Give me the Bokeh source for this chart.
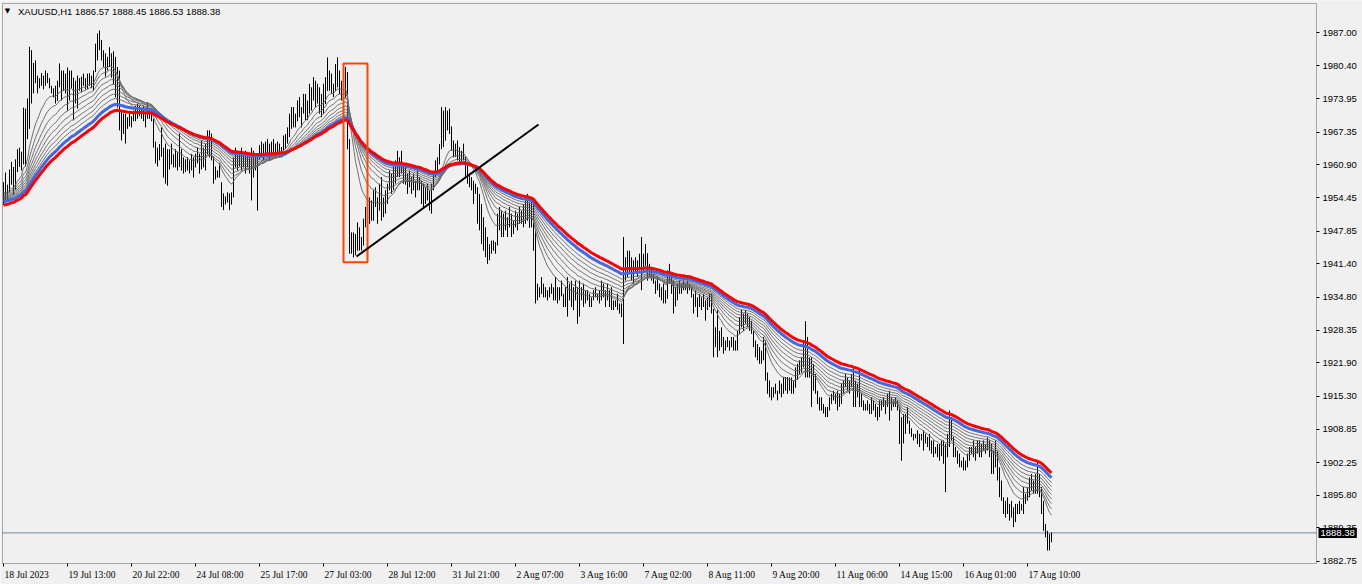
from bokeh.plotting import figure
from bokeh.models import (Range1d, FixedTicker, LinearAxis, Label, LabelSet, BoxAnnotation,
                          ColumnDataSource, NumeralTickFormatter)
from bokeh.embed import file_html
from bokeh.resources import INLINE

symbol_text = "XAUUSD,H1  1886.57 1888.45 1886.53 1888.38"

high = [
    1957.5, 1959.4, 1957.0, 1960.0, 1961.5, 1960.5, 1962.0, 1964.0, 1964.3, 1963.5,
    1972.2, 1972.0, 1974.0, 1984.2, 1983.5, 1981.0, 1981.5, 1978.5, 1978.0, 1979.0,
    1978.5, 1979.5, 1979.0, 1978.0, 1976.5, 1976.0, 1976.5, 1977.5, 1980.9, 1979.5,
    1979.5, 1978.9, 1980.1, 1979.5, 1979.5, 1978.1, 1977.5, 1978.5, 1978.0, 1978.3,
    1978.9, 1978.0, 1978.9, 1979.0, 1978.5, 1979.5, 1984.8, 1986.8, 1987.4, 1985.5,
    1983.5, 1982.9, 1982.2, 1984.1, 1982.9, 1983.3, 1982.2, 1980.2, 1979.5, 1971.6,
    1971.0, 1971.0, 1970.3, 1971.0, 1970.5, 1971.6, 1972.6, 1973.0, 1972.6, 1972.0,
    1972.6, 1971.0, 1973.3, 1972.0, 1972.0, 1970.0, 1965.5, 1964.3, 1965.0, 1968.3,
    1964.3, 1965.1, 1964.0, 1964.0, 1965.1, 1963.0, 1964.0, 1963.5, 1967.1, 1964.0,
    1962.4, 1962.0, 1962.4, 1961.8, 1963.1, 1962.4, 1963.1, 1964.3, 1963.1, 1965.7,
    1964.3, 1965.1, 1967.7, 1967.7, 1967.1, 1962.5, 1960.6, 1959.8, 1961.2, 1957.5,
    1955.3, 1954.7, 1955.5, 1955.3, 1955.5, 1962.4, 1964.3, 1963.7, 1963.1, 1964.3,
    1963.1, 1963.7, 1963.1, 1962.4, 1964.3, 1963.7, 1963.1, 1963.1, 1964.8, 1965.5,
    1965.1, 1965.5, 1966.0, 1965.1, 1965.5, 1966.0, 1965.1, 1965.5, 1965.1, 1964.4,
    1966.7, 1967.0, 1968.3, 1971.0, 1972.3, 1972.3, 1971.0, 1973.6, 1974.3, 1972.3,
    1974.9, 1974.9, 1973.6, 1976.9, 1976.2, 1978.2, 1977.5, 1976.9, 1976.2, 1974.9,
    1976.9, 1978.2, 1982.1, 1979.5, 1978.9, 1976.9, 1980.8, 1982.1, 1979.5, 1977.5,
    1979.5, 1980.2, 1979.2, 1966.0, 1947.6, 1947.6, 1947.3, 1949.6, 1948.6, 1946.7,
    1950.3, 1952.6, 1951.9, 1954.5, 1953.9, 1955.9, 1956.5, 1954.5, 1957.2, 1958.5,
    1954.5, 1955.9, 1957.2, 1959.8, 1959.2, 1960.5, 1961.8, 1963.7, 1962.4, 1963.7,
    1961.1, 1960.5, 1959.2, 1959.8, 1958.5, 1959.2, 1957.8, 1959.8, 1958.5, 1957.8,
    1957.2, 1956.5, 1957.2, 1955.9, 1957.2, 1959.2, 1961.8, 1962.4, 1965.0, 1972.3,
    1971.6, 1972.3, 1971.6, 1972.0, 1968.5, 1965.7, 1965.1, 1965.7, 1964.4, 1963.7,
    1965.1, 1962.5, 1961.1, 1959.2, 1958.5, 1957.8, 1957.2, 1956.5, 1955.2, 1953.2,
    1950.6, 1948.6, 1946.7, 1945.3, 1946.0, 1946.0, 1945.7, 1951.3, 1952.6, 1951.9,
    1951.3, 1951.9, 1950.6, 1952.6, 1951.3, 1949.9, 1951.9, 1951.3, 1952.6, 1951.9,
    1953.2, 1953.9, 1955.2, 1953.5, 1953.9, 1953.3, 1948.0, 1937.5, 1936.8, 1938.8,
    1937.5, 1936.8, 1936.2, 1936.8, 1937.5, 1936.8, 1938.8, 1936.8, 1936.8, 1938.1,
    1935.5, 1936.8, 1938.8, 1937.5, 1938.1, 1936.8, 1938.1, 1936.8, 1938.1, 1936.8,
    1937.5, 1936.2, 1936.2, 1935.5, 1934.8, 1936.2, 1936.8, 1935.5, 1936.2, 1938.1,
    1937.5, 1936.2, 1937.5, 1936.2, 1936.8, 1934.2, 1934.2, 1935.5, 1933.6, 1933.6,
    1946.7, 1942.7, 1944.0, 1944.0, 1942.7, 1942.1, 1942.7, 1942.1, 1943.4, 1946.7,
    1943.4, 1945.3, 1943.5, 1941.4, 1940.7, 1939.4, 1938.1, 1938.8, 1937.5, 1936.8,
    1937.5, 1936.2, 1940.1, 1941.4, 1939.4, 1938.1, 1936.8, 1937.5, 1938.1, 1937.5,
    1938.1, 1937.5, 1938.1, 1937.5, 1936.8, 1935.5, 1936.2, 1934.8, 1935.5, 1934.8,
    1935.5, 1934.2, 1934.8, 1935.5, 1935.5, 1932.5, 1928.9, 1932.3, 1928.2, 1928.9,
    1927.0, 1926.3, 1927.0, 1926.3, 1927.0, 1927.0, 1926.3, 1928.2, 1930.9, 1932.3,
    1931.6, 1932.3, 1931.6, 1930.9, 1930.2, 1928.2, 1926.3, 1925.6, 1925.0, 1924.3,
    1927.0, 1926.3, 1920.0, 1918.4, 1917.1, 1917.1, 1917.8, 1916.4, 1918.4, 1917.8,
    1919.1, 1919.1, 1919.1, 1919.0, 1919.0, 1918.4, 1921.0, 1921.7, 1922.4, 1923.0,
    1926.3, 1930.1, 1927.0, 1923.0, 1923.0, 1921.7, 1919.7, 1916.4, 1915.1, 1915.1,
    1913.8, 1913.2, 1913.2, 1915.1, 1915.8, 1916.4, 1915.8, 1916.4, 1915.8, 1917.8,
    1918.4, 1919.7, 1919.0, 1918.4, 1919.7, 1920.7, 1918.4, 1917.8, 1920.4, 1915.8,
    1914.5, 1913.8, 1914.5, 1913.8, 1915.1, 1914.5, 1913.8, 1913.2, 1914.5, 1914.5,
    1915.1, 1914.5, 1915.8, 1916.4, 1915.1, 1914.5, 1915.1, 1914.5, 1913.2, 1911.2,
    1911.8, 1911.8, 1913.2, 1910.5, 1909.0, 1907.9, 1907.9, 1908.6, 1907.9, 1907.9,
    1908.6, 1907.9, 1907.3, 1907.9, 1906.6, 1906.6, 1905.3, 1905.9, 1905.9, 1906.6,
    1906.6, 1905.9, 1907.9, 1912.5, 1911.2, 1907.3, 1905.3, 1904.6, 1904.0, 1902.6,
    1903.3, 1902.6, 1904.0, 1905.3, 1905.3, 1906.6, 1905.3, 1906.6, 1906.6, 1905.9,
    1906.6, 1905.9, 1907.2, 1906.6, 1905.9, 1904.6, 1906.6, 1904.6, 1901.3, 1898.7,
    1895.4, 1894.7, 1895.4, 1894.1, 1894.7, 1893.4, 1894.1, 1894.1, 1894.7, 1894.1,
    1897.4, 1896.1, 1897.4, 1899.3, 1900.0, 1898.7, 1900.0, 1902.6, 1900.0, 1897.4,
    1894.7, 1890.1, 1888.8, 1888.2, 1888.45,
]

low = [
    1953.0, 1954.0, 1953.6, 1955.5, 1957.0, 1955.0, 1956.0, 1959.5, 1960.5, 1959.8,
    1961.0, 1960.5, 1966.0, 1968.0, 1973.0, 1975.0, 1977.0, 1975.0, 1976.0, 1976.5,
    1975.8, 1976.5, 1977.0, 1976.0, 1975.0, 1974.2, 1973.0, 1973.5, 1976.2, 1973.6,
    1975.5, 1975.0, 1971.6, 1973.6, 1976.0, 1969.7, 1973.0, 1972.0, 1975.5, 1975.2,
    1976.5, 1975.8, 1975.8, 1976.5, 1976.0, 1975.5, 1979.2, 1981.5, 1983.5, 1981.5,
    1980.2, 1978.3, 1979.5, 1980.2, 1978.1, 1976.8, 1974.2, 1972.2, 1967.7, 1965.7,
    1967.0, 1965.1, 1968.0, 1968.5, 1968.3, 1969.5, 1969.5, 1970.0, 1970.5, 1970.0,
    1969.5, 1968.3, 1970.0, 1970.0, 1969.5, 1964.3, 1961.2, 1960.6, 1961.8, 1962.5,
    1958.4, 1957.2, 1956.8, 1960.0, 1961.0, 1960.4, 1960.4, 1959.8, 1960.5, 1959.8,
    1959.2, 1959.5, 1959.8, 1959.2, 1959.8, 1958.4, 1960.4, 1961.2, 1959.2, 1960.0,
    1960.4, 1959.8, 1963.0, 1962.4, 1961.8, 1957.2, 1958.0, 1958.4, 1958.4, 1952.6,
    1952.0, 1953.1, 1953.5, 1952.0, 1953.1, 1954.5, 1960.4, 1959.8, 1960.6, 1959.8,
    1960.4, 1959.2, 1960.4, 1959.2, 1953.9, 1958.4, 1959.8, 1951.9, 1962.0, 1962.4,
    1961.8, 1963.0, 1962.4, 1961.8, 1962.5, 1962.4, 1962.4, 1963.0, 1962.4, 1962.4,
    1963.7, 1964.0, 1965.1, 1966.4, 1968.0, 1968.3, 1968.3, 1969.5, 1970.3, 1968.3,
    1971.0, 1969.7, 1969.7, 1971.0, 1971.6, 1973.6, 1972.3, 1973.0, 1971.0, 1970.3,
    1971.0, 1972.9, 1975.5, 1975.5, 1974.9, 1974.3, 1975.5, 1976.2, 1974.9, 1973.6,
    1972.5, 1974.0, 1964.0, 1943.4, 1943.4, 1942.7, 1943.1, 1944.0, 1944.0, 1944.0,
    1945.0, 1948.6, 1948.0, 1949.3, 1949.9, 1949.9, 1952.6, 1949.3, 1951.9, 1949.9,
    1950.6, 1951.3, 1953.2, 1955.9, 1955.2, 1956.0, 1957.2, 1958.5, 1958.5, 1959.2,
    1957.2, 1957.0, 1955.2, 1956.5, 1955.2, 1955.9, 1954.5, 1955.9, 1955.9, 1953.2,
    1952.6, 1953.2, 1953.9, 1951.9, 1951.3, 1955.9, 1958.5, 1959.8, 1961.0, 1964.0,
    1964.4, 1965.7, 1967.7, 1967.0, 1963.7, 1962.4, 1962.5, 1961.8, 1961.1, 1961.1,
    1961.8, 1958.5, 1957.2, 1956.5, 1955.9, 1953.2, 1955.2, 1949.3, 1948.0, 1945.3,
    1944.0, 1942.7, 1941.4, 1942.1, 1943.4, 1944.0, 1943.4, 1945.0, 1948.0, 1946.7,
    1946.7, 1948.0, 1946.7, 1948.6, 1946.7, 1947.3, 1948.6, 1948.0, 1949.3, 1949.3,
    1948.6, 1949.3, 1949.9, 1948.5, 1948.6, 1944.0, 1933.6, 1934.2, 1934.8, 1935.5,
    1934.8, 1934.8, 1934.2, 1934.8, 1935.5, 1934.2, 1934.2, 1933.6, 1934.2, 1935.0,
    1932.9, 1932.9, 1931.0, 1934.2, 1932.9, 1932.3, 1934.2, 1929.6, 1931.0, 1934.2,
    1932.9, 1933.6, 1934.2, 1932.9, 1932.9, 1934.2, 1934.8, 1934.2, 1933.6, 1934.2,
    1934.8, 1932.9, 1934.2, 1932.9, 1932.3, 1932.3, 1932.9, 1932.3, 1931.6, 1930.9,
    1925.6, 1938.1, 1938.8, 1939.4, 1938.1, 1937.5, 1939.4, 1938.8, 1940.1, 1936.2,
    1940.1, 1941.0, 1938.1, 1938.8, 1938.1, 1937.5, 1935.5, 1936.2, 1934.8, 1934.2,
    1933.6, 1933.6, 1934.5, 1937.5, 1935.5, 1931.6, 1933.0, 1934.2, 1935.5, 1935.5,
    1936.2, 1936.2, 1935.5, 1936.2, 1934.8, 1931.6, 1932.9, 1930.9, 1932.9, 1932.3,
    1932.9, 1930.2, 1932.3, 1932.9, 1931.6, 1923.0, 1925.0, 1923.0, 1924.3, 1925.0,
    1923.7, 1924.3, 1925.0, 1924.3, 1925.0, 1924.3, 1924.3, 1924.3, 1927.6, 1928.9,
    1928.2, 1929.6, 1928.9, 1928.2, 1927.6, 1925.0, 1923.0, 1922.4, 1921.7, 1921.7,
    1922.4, 1918.4, 1915.8, 1915.1, 1914.5, 1915.1, 1915.8, 1914.5, 1915.8, 1915.1,
    1915.8, 1916.4, 1915.8, 1916.4, 1915.8, 1915.8, 1917.0, 1918.5, 1919.7, 1920.0,
    1921.0, 1919.0, 1919.0, 1919.0, 1913.2, 1916.4, 1915.8, 1913.8, 1912.5, 1912.5,
    1911.9, 1911.2, 1911.2, 1912.5, 1913.8, 1914.5, 1913.8, 1912.5, 1913.2, 1913.8,
    1915.8, 1917.1, 1916.4, 1915.8, 1917.1, 1913.2, 1913.2, 1915.1, 1913.2, 1913.2,
    1912.5, 1912.5, 1912.5, 1911.8, 1911.8, 1912.5, 1911.2, 1910.5, 1911.2, 1912.5,
    1913.2, 1911.8, 1913.2, 1910.5, 1912.5, 1913.2, 1913.2, 1912.5, 1905.9, 1902.6,
    1906.0, 1907.9, 1909.9, 1907.9, 1907.3, 1906.6, 1907.0, 1905.9, 1905.3, 1906.6,
    1904.6, 1906.0, 1905.3, 1904.6, 1904.0, 1903.3, 1904.0, 1903.3, 1902.6, 1903.5,
    1902.0, 1896.4, 1903.3, 1905.3, 1906.6, 1903.3, 1903.3, 1902.0, 1901.3, 1901.3,
    1900.7, 1900.7, 1901.3, 1902.6, 1904.0, 1903.3, 1902.6, 1904.0, 1903.3, 1903.3,
    1904.6, 1904.0, 1904.6, 1903.3, 1900.0, 1900.0, 1901.3, 1898.7, 1895.4, 1894.7,
    1892.1, 1891.4, 1892.1, 1890.8, 1891.4, 1889.5, 1890.5, 1892.1, 1892.1, 1892.8,
    1892.1, 1894.1, 1894.7, 1895.4, 1896.7, 1896.1, 1896.1, 1896.1, 1895.4, 1892.1,
    1888.8, 1887.5, 1884.9, 1884.9, 1886.53,
]

close = [
    1956.0, 1955.0, 1956.5, 1958.5, 1959.0, 1956.5, 1961.0, 1962.5, 1961.0, 1963.0,
    1970.5, 1962.0, 1972.0, 1980.0, 1976.0, 1977.5, 1978.0, 1976.0, 1977.5, 1978.5,
    1976.5, 1979.0, 1977.5, 1976.5, 1975.5, 1975.0, 1974.0, 1976.5, 1979.0, 1975.0,
    1978.5, 1976.0, 1974.0, 1978.0, 1977.0, 1972.0, 1976.0, 1977.0, 1976.5, 1977.5,
    1977.0, 1976.8, 1978.5, 1978.0, 1977.0, 1979.0, 1983.0, 1985.0, 1984.0, 1982.5,
    1981.0, 1980.5, 1980.0, 1983.0, 1979.0, 1978.0, 1976.0, 1973.0, 1970.0, 1968.0,
    1970.0, 1967.5, 1969.0, 1970.5, 1969.0, 1970.5, 1972.0, 1971.0, 1971.5, 1970.5,
    1970.0, 1969.5, 1972.5, 1970.5, 1970.0, 1965.0, 1962.0, 1963.5, 1962.5, 1964.0,
    1960.0, 1962.0, 1960.0, 1963.0, 1962.0, 1961.5, 1963.0, 1960.5, 1964.0, 1960.5,
    1961.0, 1960.0, 1961.0, 1960.0, 1962.5, 1959.5, 1962.5, 1963.5, 1960.0, 1964.5,
    1961.5, 1963.0, 1966.5, 1963.5, 1962.5, 1958.0, 1959.0, 1959.0, 1959.0, 1953.5,
    1954.5, 1954.0, 1955.0, 1953.0, 1955.0, 1961.0, 1962.5, 1961.0, 1962.5, 1961.5,
    1962.0, 1960.0, 1961.5, 1960.0, 1961.0, 1962.0, 1961.5, 1962.5, 1963.5, 1964.5,
    1962.5, 1964.5, 1965.0, 1962.5, 1964.0, 1965.5, 1963.5, 1965.0, 1964.0, 1963.5,
    1966.0, 1966.5, 1967.5, 1969.5, 1971.5, 1969.0, 1970.5, 1972.5, 1971.0, 1971.5,
    1973.5, 1972.0, 1972.5, 1975.5, 1973.0, 1977.0, 1974.5, 1975.5, 1972.0, 1974.0,
    1976.0, 1976.5, 1980.0, 1977.0, 1976.0, 1975.0, 1979.0, 1978.0, 1976.0, 1975.5,
    1974.0, 1978.0, 1966.0, 1945.0, 1944.5, 1946.0, 1944.0, 1948.0, 1945.0, 1945.5,
    1949.5, 1950.0, 1949.0, 1953.5, 1951.0, 1955.0, 1953.5, 1951.0, 1955.0, 1952.0,
    1953.5, 1955.0, 1956.5, 1958.5, 1957.0, 1958.0, 1960.5, 1961.0, 1961.5, 1960.0,
    1958.5, 1959.0, 1957.0, 1958.5, 1956.0, 1958.0, 1955.5, 1958.5, 1957.0, 1954.5,
    1954.0, 1955.5, 1954.5, 1953.0, 1956.5, 1958.5, 1961.0, 1961.5, 1964.5, 1970.0,
    1966.5, 1970.5, 1969.0, 1968.0, 1965.0, 1963.0, 1964.5, 1962.5, 1962.0, 1963.0,
    1962.0, 1959.0, 1958.5, 1957.5, 1956.5, 1955.0, 1956.0, 1951.0, 1953.0, 1947.0,
    1946.5, 1944.0, 1943.0, 1944.5, 1944.5, 1945.5, 1945.0, 1949.5, 1950.0, 1948.0,
    1948.5, 1950.5, 1948.0, 1951.5, 1948.0, 1948.5, 1950.5, 1949.0, 1951.5, 1950.0,
    1952.0, 1951.0, 1953.5, 1949.5, 1951.5, 1945.0, 1936.0, 1936.0, 1935.5, 1937.5,
    1936.0, 1935.5, 1935.0, 1936.5, 1936.0, 1935.0, 1937.0, 1934.5, 1936.0, 1936.5,
    1934.0, 1935.5, 1932.5, 1936.0, 1934.0, 1935.5, 1935.0, 1932.0, 1936.5, 1935.5,
    1934.0, 1935.5, 1934.5, 1933.5, 1934.5, 1935.5, 1935.0, 1935.0, 1934.5, 1936.5,
    1935.5, 1934.0, 1936.0, 1933.5, 1934.5, 1933.0, 1933.5, 1934.0, 1932.5, 1932.0,
    1940.0, 1941.0, 1942.5, 1940.5, 1939.0, 1940.5, 1941.5, 1940.0, 1942.0, 1941.0,
    1942.0, 1943.5, 1939.5, 1940.5, 1938.5, 1938.0, 1936.0, 1937.5, 1935.5, 1936.0,
    1934.5, 1935.0, 1938.5, 1939.0, 1936.0, 1933.0, 1935.5, 1936.5, 1937.0, 1936.5,
    1937.5, 1936.5, 1937.0, 1936.5, 1935.5, 1932.5, 1935.0, 1932.0, 1934.5, 1933.0,
    1934.5, 1931.5, 1934.0, 1933.5, 1932.5, 1926.0, 1926.5, 1927.5, 1925.0, 1927.0,
    1924.5, 1925.5, 1926.0, 1925.0, 1926.5, 1925.5, 1925.0, 1927.5, 1929.5, 1931.0,
    1929.0, 1931.5, 1930.0, 1929.0, 1928.5, 1925.5, 1924.0, 1923.5, 1922.5, 1923.5,
    1925.0, 1919.5, 1917.0, 1916.0, 1915.5, 1916.5, 1917.0, 1915.5, 1917.5, 1916.0,
    1918.5, 1917.5, 1918.0, 1917.5, 1918.0, 1917.0, 1920.0, 1919.5, 1921.5, 1922.0,
    1924.0, 1921.0, 1920.5, 1921.0, 1915.0, 1918.5, 1916.5, 1914.5, 1914.0, 1913.0,
    1913.0, 1912.0, 1912.5, 1914.5, 1915.0, 1915.5, 1914.0, 1915.5, 1914.0, 1916.5,
    1917.5, 1918.5, 1917.0, 1918.0, 1918.0, 1915.0, 1917.0, 1916.0, 1914.5, 1914.0,
    1913.5, 1913.0, 1914.0, 1912.5, 1914.5, 1913.0, 1912.0, 1911.5, 1913.5, 1913.5,
    1914.5, 1912.5, 1915.0, 1914.0, 1913.5, 1914.0, 1914.5, 1913.0, 1907.5, 1905.0,
    1909.0, 1910.5, 1911.0, 1909.0, 1908.0, 1907.0, 1907.5, 1906.5, 1906.5, 1907.5,
    1906.0, 1906.5, 1906.0, 1905.0, 1905.5, 1904.0, 1904.5, 1905.0, 1903.5, 1905.5,
    1903.0, 1904.0, 1906.5, 1909.0, 1907.5, 1904.5, 1904.0, 1903.0, 1902.0, 1902.0,
    1901.5, 1902.0, 1903.5, 1904.0, 1904.5, 1905.5, 1903.5, 1906.0, 1904.5, 1905.5,
    1905.0, 1905.5, 1906.5, 1904.0, 1901.0, 1902.0, 1903.0, 1900.0, 1896.5, 1895.5,
    1893.5, 1892.0, 1894.5, 1891.5, 1893.0, 1890.5, 1893.5, 1893.0, 1894.0, 1893.5,
    1896.5, 1895.5, 1896.0, 1898.0, 1898.5, 1897.5, 1899.0, 1898.0, 1896.5, 1893.0,
    1889.5, 1888.5, 1886.0, 1886.6, 1888.38,
]

date_ticks = [0, 32, 64, 96, 128, 160, 192, 224, 256, 288, 320, 352, 384, 416, 448, 480, 512]
date_labels = ["18 Jul 2023", "19 Jul 13:00", "20 Jul 22:00", "24 Jul 08:00", "25 Jul 17:00",
               "27 Jul 03:00", "28 Jul 12:00", "31 Jul 21:00", "2 Aug 07:00", "3 Aug 16:00",
               "7 Aug 02:00", "8 Aug 11:00", "9 Aug 20:00", "11 Aug 06:00", "14 Aug 15:00",
               "16 Aug 01:00", "17 Aug 10:00"]
price_ticks = [1987.00, 1980.40, 1973.95, 1967.35, 1960.90, 1954.45, 1947.85, 1941.40,
               1934.80, 1928.35, 1921.90, 1915.30, 1908.85, 1902.25, 1895.80, 1889.35, 1882.75]
last_price = 1888.38

grey_periods = [14, 20, 26, 32, 38, 44, 50, 56]
grey_init = [1955.4, 1955.1, 1954.8, 1954.6, 1954.4, 1954.2, 1954.0, 1953.8]
blue_period = 64
blue_init = 1953.6
red_period = 72
red_init = 1952.9

box_x = [170, 182]
box_y = [1941.7, 1980.9]
trend_x = [176.5, 267.5]
trend_y = [1942.85, 1968.87]


def ema(vals, period, init):
    a = 2.0 / (period + 1)
    out, e = [], init
    for v in vals:
        e = e + a * (v - e)
        out.append(e)
    return out


n = min(len(high), len(low), len(close))
idx = list(range(n))
high, low, close = high[:n], low[:n], close[:n]

# ---- layout (page pixels -> data) ----
W, H = 1362, 584
BG = "#F0F0F0"
FONT = "Liberation Sans"
FS = "9.5px"
PX_PER_BAR = 2.0
PX_PER_PRICE = 5.074
X0 = -1.5                                   # data x at page x = 0
PRICE_TOP = 1987.0 + 32.0 / PX_PER_PRICE    # price at page y = 0


def px_x(px):
    return X0 + px / PX_PER_BAR


def py_price(py):
    return PRICE_TOP - py / PX_PER_PRICE


xr = Range1d(px_x(0), px_x(W))
yr = Range1d(py_price(H), py_price(0))

chart_l, chart_r = px_x(2), px_x(1316)
chart_t, chart_b = py_price(3), py_price(563)

p = figure(frame_width=W, frame_height=H, x_range=xr, y_range=yr,
           output_backend="svg", toolbar_location=None,
           x_axis_location=None, y_axis_location=None,
           min_border_left=0, min_border_top=0, min_border_right=0, min_border_bottom=0,
           background_fill_color=BG, border_fill_color=BG, outline_line_color=None)
p.grid.grid_line_color = None

# right price axis, fixed to the chart's right edge
yaxis = LinearAxis(ticker=FixedTicker(ticks=price_ticks, minor_ticks=[]),
                   formatter=NumeralTickFormatter(format="0.00"),
                   fixed_location=chart_r,
                   major_tick_out=3, major_tick_in=0, minor_tick_out=0, minor_tick_in=0,
                   axis_line_color=None, major_tick_line_color="black",
                   major_label_standoff=3, major_label_text_font=FONT,
                   major_label_text_font_size=FS, major_label_text_color="black")
p.add_layout(yaxis, "right")

# bottom time axis (tick marks), fixed to the chart's bottom edge
xaxis = LinearAxis(ticker=FixedTicker(ticks=date_ticks, minor_ticks=[]),
                   fixed_location=chart_b,
                   major_tick_out=3, major_tick_in=0, minor_tick_out=0, minor_tick_in=0,
                   axis_line_color=None, major_tick_line_color="black",
                   major_label_text_font_size="0px", major_label_standoff=0)
xaxis.major_label_overrides = {t: "" for t in date_ticks}
p.add_layout(xaxis, "below")

lab_src = ColumnDataSource(dict(x=date_ticks, y=[py_price(574.5)] * len(date_ticks),
                                text=date_labels))
p.add_layout(LabelSet(x="x", y="y", text="text", source=lab_src, x_offset=1,
                      text_align="left", text_baseline="middle", text_font=FONT,
                      text_font_size=FS, text_color="black"))

# current price line
p.segment(x0=[chart_l], y0=[last_price], x1=[chart_r], y1=[last_price],
          line_color="#778899", line_width=1)

# bars (high-low)
p.segment(x0=idx, y0=low, x1=idx, y1=high, line_color="black", line_width=1)

# moving-average ribbon
for per, ini in zip(grey_periods, grey_init):
    p.line(idx, ema(close, per, ini), line_color="#6E6E6E", line_width=1)
p.line(idx, ema(close, blue_period, blue_init), line_color="#4169E1", line_width=3)
p.line(idx, ema(close, red_period, red_init), line_color="#FF0000", line_width=3)

# drawn objects
p.quad(left=[box_x[0]], right=[box_x[1]], bottom=[box_y[0]], top=[box_y[1]],
       fill_color=None, line_color="#FF4500", line_width=2)
p.line(trend_x, trend_y, line_color="black", line_width=2)

# chart border
p.add_layout(BoxAnnotation(left=chart_l, right=chart_r, bottom=chart_b, top=chart_t,
                           fill_color=None, fill_alpha=0, line_color="black", line_width=1))

# symbol header
p.add_layout(Label(x=chart_l, y=py_price(10.5), x_offset=5, text="\u25BC",
                   text_font="DejaVu Sans", text_font_size="7px", text_baseline="middle",
                   text_align="center", text_color="black"))
p.add_layout(Label(x=chart_l, y=py_price(10.5), x_offset=15.5, text=symbol_text,
                   text_font=FONT, text_font_size=FS, text_baseline="middle",
                   text_color="black"))

# last price tag
tag = Label(x=chart_r, y=last_price, x_offset=2, text="%.2f" % last_price,
            text_font=FONT, text_font_size=FS, text_baseline="middle",
            text_align="left", text_color="white", background_fill_color="black")
try:
    tag.padding = 2
except Exception:
    pass
p.add_layout(tag)

open("out.html", "w").write(file_html(p, INLINE))
